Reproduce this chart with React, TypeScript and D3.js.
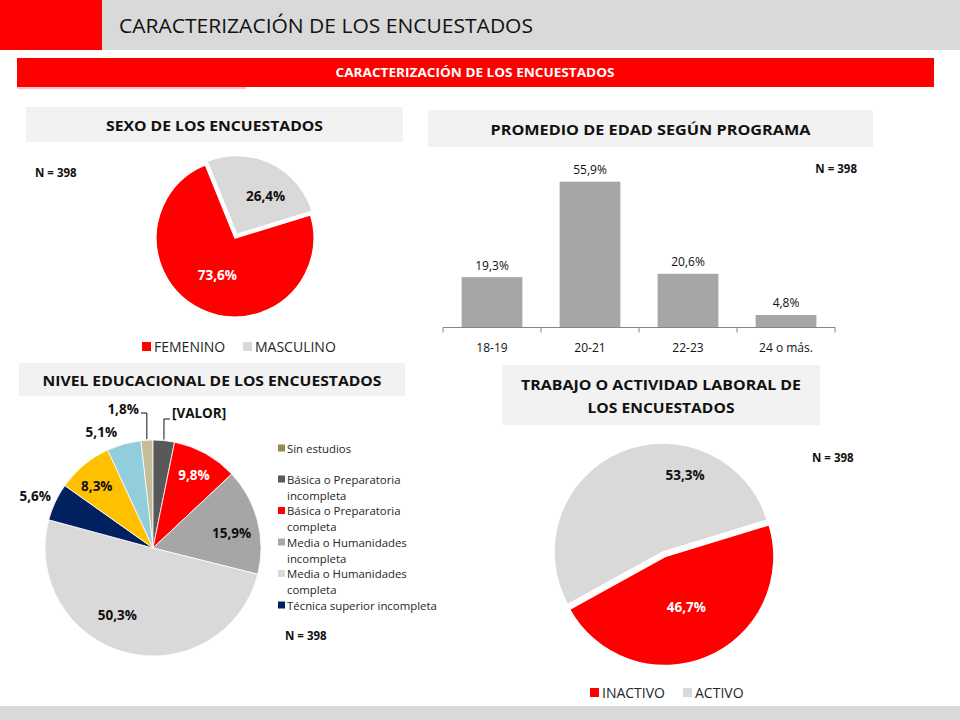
import React from 'react';
import * as d3 from 'd3';

// ---------------- DATA ----------------
const sexCategories = ['FEMENINO', 'MASCULINO'];
const sexValues = [73.6, 26.4];

const ageCategories = ['18-19', '20-21', '22-23', '24 o más.'];
const ageValues = [19.3, 55.9, 20.6, 4.8];

const eduCategories = [
  'Sin estudios',
  'Básica o Preparatoria incompleta',
  'Básica o Preparatoria completa',
  'Media o Humanidades incompleta',
  'Media o Humanidades completa',
  'Técnica superior incompleta',
  'Técnica superior completa',
  'Universitaria incompleta',
];
const eduValues = [1.8, 3.2, 9.8, 15.9, 50.3, 5.6, 8.3, 5.1];
const eduLegendCount = 6;

const workCategories = ['INACTIVO', 'ACTIVO'];
const workValues = [46.7, 53.3];

const sampleN = 398;

// ---------------- STYLE ----------------
const FONT = "'Open Sans', 'DejaVu Sans', sans-serif";
const RED = '#ff0000';
const LIGHT = '#d9d9d9';
const PANEL = '#f2f2f2';
const sexColors = [RED, LIGHT];
const workColors = [RED, LIGHT];
const eduColors = ['#c4bd97', '#595959', RED, '#a6a6a6', LIGHT, '#002060', '#ffc000', '#92cddc'];
const eduLegendColors = ['#948a54', '#595959', RED, '#a6a6a6', LIGHT, '#002060'];
const eduLegendLines = [
  ['Sin estudios'],
  ['Básica o Preparatoria', 'incompleta'],
  ['Básica o Preparatoria', 'completa'],
  ['Media o Humanidades', 'incompleta'],
  ['Media o Humanidades', 'completa'],
  ['Técnica superior incompleta'],
];
const LABEL_SIZE = 13.5;
const LEGEND_SIZE = 14;

const locale = d3.formatLocale({ decimal: ',', thousands: '.', grouping: [3], currency: ['', ''] });
const fmt = (v: number) => locale.format('.1f')(v) + '%';
const deg = (a: number) => (a * Math.PI) / 180;

function polar(cx: number, cy: number, r: number, angleRad: number): [number, number] {
  return [cx + r * Math.sin(angleRad), cy - r * Math.cos(angleRad)];
}

type PieProps = {
  values: number[];
  colors: string[];
  cx: number;
  cy: number;
  r: number;
  start: number;
  explode?: number[];
  stroke?: number;
};

function pieArcs(values: number[], start: number) {
  return d3
    .pie<number>()
    .sort(null)
    .value((d) => d)
    .startAngle(deg(start))
    .endAngle(deg(start) + 2 * Math.PI)(values);
}

function PieSlices({ values, colors, cx, cy, r, start, explode, stroke }: PieProps) {
  const arcs = pieArcs(values, start);
  const arcGen = d3.arc<d3.PieArcDatum<number>>().innerRadius(0).outerRadius(r);
  return (
    <g>
      {arcs.map((a, i) => {
        const mid = (a.startAngle + a.endAngle) / 2;
        const off = explode ? explode[i] || 0 : 0;
        const [dx, dy] = polar(0, 0, off, mid);
        return (
          <path
            key={i}
            d={arcGen(a) || ''}
            transform={`translate(${cx + dx},${cy + dy})`}
            fill={colors[i]}
            stroke="#ffffff"
            strokeWidth={stroke ?? 1}
            strokeLinejoin="round"
          />
        );
      })}
    </g>
  );
}

function PanelTitle({ x, y, w, h, lines, widths, size }: { x: number; y: number; w: number; h: number; lines: string[]; widths: number[]; size: number }) {
  const lh = 23;
  const y0 = y + h / 2 - ((lines.length - 1) * lh) / 2;
  return (
    <g>
      <rect x={x} y={y} width={w} height={h} fill={PANEL} />
      {lines.map((t, i) => (
        <text
          key={i}
          x={x + w / 2}
          y={y0 + i * lh}
          textAnchor="middle"
          dominantBaseline="central"
          fontFamily={FONT}
          fontWeight={700}
          fontSize={size}
          fill="#111111"
          textLength={widths[i]}
          lengthAdjust="spacingAndGlyphs"
        >
          {t}
        </text>
      ))}
    </g>
  );
}

function NLabel({ x, y, anchor }: { x: number; y: number; anchor?: string }) {
  return (
    <text x={x} y={y} fontFamily={FONT} fontSize={11.5} fontWeight={700} fill="#111111" textAnchor={anchor || 'start'} dominantBaseline="central">
      N = {sampleN}
    </text>
  );
}

// ---------------- SEX PIE ----------------
function SexChart() {
  const cx = 235, cy = 238, r = 79;
  const arcs = pieArcs(sexValues, 73);
  const labelPolar: [number, number | null][] = [[41, null], [52, 36]];
  const labelColors = ['#ffffff', '#111111'];
  return (
    <g>
      <PanelTitle x={26} y={107} w={377} h={35} lines={['SEXO DE LOS ENCUESTADOS']} widths={[217]} size={15} />
      <NLabel x={35} y={172} />
      <PieSlices values={sexValues} colors={sexColors} cx={cx} cy={cy} r={r} start={73} explode={[0, 4]} stroke={1.5} />
      {arcs.map((a, i) => {
        const mid = labelPolar[i][1] == null ? (a.startAngle + a.endAngle) / 2 : deg(labelPolar[i][1] as number);
        const [lx, ly] = polar(cx, cy, labelPolar[i][0], mid);
        return (
          <text key={i} x={lx} y={ly} textAnchor="middle" dominantBaseline="central" fontFamily={FONT} fontWeight={700} fontSize={LABEL_SIZE} fill={labelColors[i]}>
            {fmt(sexValues[i])}
          </text>
        );
      })}
      {sexCategories.map((c, i) => {
        const lx = [142, 243][i];
        return (
          <g key={c}>
            <rect x={lx} y={342} width={9} height={9} fill={sexColors[i]} />
            <text x={lx + 12} y={346.5} dominantBaseline="central" fontFamily={FONT} fontSize={LEGEND_SIZE} fill="#262626">
              {c}
            </text>
          </g>
        );
      })}
    </g>
  );
}

// ---------------- AGE BARS ----------------
function AgeChart() {
  const x = d3.scaleBand<string>().domain(ageCategories).range([443, 835]).paddingInner(0.38).paddingOuter(0.19);
  const y = d3.scaleLinear().domain([0, 60]).range([327.5, 171]);
  const step = x.step();
  const x0 = x.range()[0];
  const ticks = d3.range(ageCategories.length + 1).map((i) => x0 + i * step);
  return (
    <g>
      <PanelTitle x={428} y={110} w={445} h={37} lines={['PROMEDIO DE EDAD SEGÚN PROGRAMA']} widths={[320]} size={15} />
      <NLabel x={857} y={168} anchor="end" />
      {ageValues.map((v, i) => {
        const bx = x(ageCategories[i]) as number;
        return (
          <g key={i}>
            <rect x={bx} y={y(v)} width={x.bandwidth()} height={y(0) - y(v)} fill="#a6a6a6" />
            <text x={bx + x.bandwidth() / 2} y={y(v) - 12} textAnchor="middle" dominantBaseline="central" fontFamily={FONT} fontSize={12} fill="#111111">
              {fmt(v)}
            </text>
          </g>
        );
      })}
      <line x1={ticks[0]} x2={ticks[ticks.length - 1]} y1={y(0)} y2={y(0)} stroke="#868686" strokeWidth={1} />
      {ticks.map((t, i) => (
        <line key={i} x1={t} x2={t} y1={y(0)} y2={y(0) + 5} stroke="#868686" strokeWidth={1} />
      ))}
      {ageCategories.map((c) => (
        <text key={c} x={(x(c) as number) + x.bandwidth() / 2} y={347} textAnchor="middle" dominantBaseline="central" fontFamily={FONT} fontSize={12} fill="#111111">
          {c}
        </text>
      ))}
    </g>
  );
}

// ---------------- EDUCATION PIE ----------------
function EduChart() {
  const cx = 153, cy = 548, r = 108;
  const arcs = pieArcs(eduValues, -eduValues[0] * 3.6);
  // [radius, angle override (deg) or null, color]
  const labelSpec: [number, number | null, string][] = [
    [0, null, '#111111'],
    [0, null, '#111111'],
    [84, null, '#ffffff'],
    [80, 79, '#111111'],
    [76, 208, '#111111'],
    [129, 294, '#111111'],
    [84, 318, '#111111'],
    [127, 336, '#111111'],
  ];
  const labelTexts = eduValues.map((v, i) => (i === 1 ? '[VALOR]' : fmt(v)));
  return (
    <g>
      <PanelTitle x={19} y={363} w={386} h={33} lines={['NIVEL EDUCACIONAL DE LOS ENCUESTADOS']} widths={[339]} size={15} />
      <PieSlices values={eduValues} colors={eduColors} cx={cx} cy={cy} r={r} start={-eduValues[0] * 3.6} stroke={0.8} />
      {arcs.map((a, i) => {
        const mid = (a.startAngle + a.endAngle) / 2;
        if (i < 2) {
          const [ex, ey] = polar(cx, cy, r + 1, mid);
          const ly = i === 0 ? 413 : 419;
          const side = i === 0 ? -1 : 1;
          const hx = ex + side * 6;
          return (
            <g key={i}>
              <polyline points={`${ex},${ey} ${ex},${ly} ${hx},${ly}`} fill="none" stroke="#111111" strokeWidth={1} />
              <text x={hx + side * 2} y={ly - (i === 0 ? 4 : 6)} textAnchor={side < 0 ? 'end' : 'start'} dominantBaseline="central" fontFamily={FONT} fontWeight={700} fontSize={LABEL_SIZE} fill="#111111">
                {labelTexts[i]}
              </text>
            </g>
          );
        }
        const spec = labelSpec[i];
        const ang = spec[1] == null ? mid : deg(spec[1] as number);
        const [lx, ly] = polar(cx, cy, spec[0], ang);
        return (
          <text key={i} x={lx} y={ly} textAnchor="middle" dominantBaseline="central" fontFamily={FONT} fontWeight={700} fontSize={LABEL_SIZE} fill={spec[2]}>
            {labelTexts[i]}
          </text>
        );
      })}
      {(() => {
        let yy = 448;
        const items: React.ReactNode[] = [];
        for (let i = 0; i < eduLegendCount; i++) {
          const lines = eduLegendLines[i];
          items.push(
            <g key={i}>
              <rect x={278} y={yy - 3.5} width={7} height={7} fill={eduLegendColors[i]} />
              {lines.map((l, j) => (
                <text key={j} x={287} y={yy + j * 16} dominantBaseline="central" fontFamily={FONT} fontSize={11.4} fill="#262626">
                  {l}
                </text>
              ))}
            </g>
          );
          yy += i === 0 ? 31 : 31.5;
        }
        return items;
      })()}
      <NLabel x={285} y={635} />
    </g>
  );
}

// ---------------- WORK PIE ----------------
function WorkChart() {
  const cx = 663, cy = 552, r = 109;
  const arcs = pieArcs(workValues, 73);
  const labelSpec: [number, number | null, string][] = [
    [60, null, '#ffffff'],
    [80, 16, '#111111'],
  ];
  return (
    <g>
      <PanelTitle x={502} y={365} w={318} h={60} lines={['TRABAJO O ACTIVIDAD LABORAL DE', 'LOS ENCUESTADOS']} widths={[280, 147]} size={15} />
      <NLabel x={812} y={457} />
      <PieSlices values={workValues} colors={workColors} cx={cx} cy={cy} r={r} start={73} explode={[5, 0]} stroke={1.5} />
      {arcs.map((a, i) => {
        const mid = labelSpec[i][1] == null ? (a.startAngle + a.endAngle) / 2 : deg(labelSpec[i][1] as number);
        const [lx, ly] = polar(cx, cy, labelSpec[i][0], mid);
        return (
          <text key={i} x={lx} y={ly} textAnchor="middle" dominantBaseline="central" fontFamily={FONT} fontWeight={700} fontSize={LABEL_SIZE} fill={labelSpec[i][2]}>
            {fmt(workValues[i])}
          </text>
        );
      })}
      {workCategories.map((c, i) => {
        const lx = [590, 683][i];
        return (
          <g key={c}>
            <rect x={lx} y={688} width={9} height={9} fill={workColors[i]} />
            <text x={lx + 12} y={692.5} dominantBaseline="central" fontFamily={FONT} fontSize={LEGEND_SIZE} fill="#262626">
              {c}
            </text>
          </g>
        );
      })}
    </g>
  );
}

export default function App() {
  return (
    <svg width={960} height={720} viewBox="0 0 960 720" style={{ position: 'absolute', left: 0, top: 0, background: '#ffffff' }}>
      <rect x={0} y={0} width={960} height={720} fill="#ffffff" />
      <rect x={0} y={0} width={102} height={50} fill={RED} />
      <rect x={102} y={0} width={858} height={50} fill={LIGHT} />
      <text x={119} y={25} dominantBaseline="central" fontFamily={FONT} fontSize={20} fill="#111111" textLength={414} lengthAdjust="spacingAndGlyphs">
        CARACTERIZACIÓN DE LOS ENCUESTADOS
      </text>
      <rect x={17} y={58} width={917} height={29} fill={RED} />
      <rect x={17} y={87} width={229} height={2} fill="#f6c4c4" />
      <text x={475} y={72.5} textAnchor="middle" dominantBaseline="central" fontFamily={FONT} fontWeight={700} fontSize={12} fill="#ffffff" textLength={279} lengthAdjust="spacingAndGlyphs">
        CARACTERIZACIÓN DE LOS ENCUESTADOS
      </text>
      <SexChart />
      <AgeChart />
      <EduChart />
      <WorkChart />
      <rect x={0} y={706} width={960} height={14} fill={LIGHT} />
    </svg>
  );
}
